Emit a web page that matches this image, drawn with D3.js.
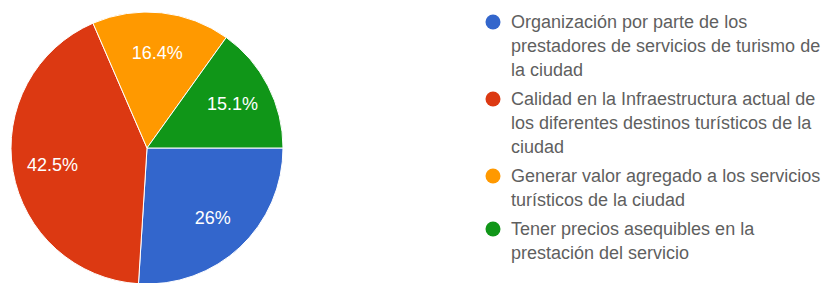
<!DOCTYPE html>
<html lang="es">
<head>
<meta charset="UTF-8">
<title>Pie</title>
<script src="https://cdnjs.cloudflare.com/ajax/libs/d3/7.8.5/d3.min.js"></script>
<style>
  body { margin: 0; background: #fff; }
  svg { display: block; font-family: Arial, "Liberation Sans", sans-serif; }
</style>
</head>
<body>
<svg width="825" height="283"></svg>
<script>
// categories, wrapped the way the legend shows them
var categories = [
    "Organización por parte de los\nprestadores de servicios de turismo de\nla ciudad",
    "Calidad en la Infraestructura actual de\nlos diferentes destinos turísticos de la\nciudad",
    "Generar valor agregado a los servicios\nturísticos de la ciudad",
    "Tener precios asequibles en la\nprestación del servicio"
];
var values = [26, 42.5, 16.4, 15.1];
var labels = ["26%", "42.5%", "16.4%", "15.1%"];
var colors = ["#3366cc", "#dc3912", "#ff9900", "#109618"];

var svg = d3.select("svg");

var cx = 147, cy = 148, r = 136;

var color = d3.scaleOrdinal().domain(categories).range(colors);

var pie = d3.pie()
    .sort(null)
    .value(function (d) { return d.value; })
    .startAngle(Math.PI / 2)
    .endAngle(Math.PI / 2 + 2 * Math.PI);

var arc = d3.arc().innerRadius(0).outerRadius(r);
var labelArc = d3.arc().innerRadius(96).outerRadius(96);

var data = categories.map(function (c, i) {
    return { name: c, value: values[i], label: labels[i] };
});

var g = svg.append("g").attr("transform", "translate(" + cx + "," + cy + ")");

g.selectAll("path")
    .data(pie(data))
    .enter()
    .append("path")
    .attr("d", arc)
    .attr("fill", function (d) { return color(d.data.name); })
    .attr("stroke", "#fff")
    .attr("stroke-width", 1);

g.selectAll("text")
    .data(pie(data))
    .enter()
    .append("text")
    .attr("transform", function (d) { return "translate(" + labelArc.centroid(d) + ")"; })
    .attr("text-anchor", "middle")
    .attr("dy", "0.35em")
    .attr("fill", "#fff")
    .style("font-size", "18px")
    .text(function (d) { return d.data.label; });

// legend
var lineH = 24, gap = 5;
var legend = svg.append("g").attr("transform", "translate(493,22)");
var yPos = 0;
categories.forEach(function (c, i) {
    var lines = c.split("\n");
    var item = legend.append("g").attr("transform", "translate(0," + yPos + ")");
    item.append("circle")
        .attr("r", 7.5)
        .attr("fill", color(c));
    item.selectAll("text")
        .data(lines)
        .enter()
        .append("text")
        .attr("x", 18)
        .attr("y", function (l, j) { return j * lineH; })
        .attr("dy", "0.35em")
        .attr("fill", "#5f5f5f")
        .style("font-size", "18px")
        .text(function (l) { return l; });
    yPos += lines.length * lineH + gap;
});
</script>
</body>
</html>
